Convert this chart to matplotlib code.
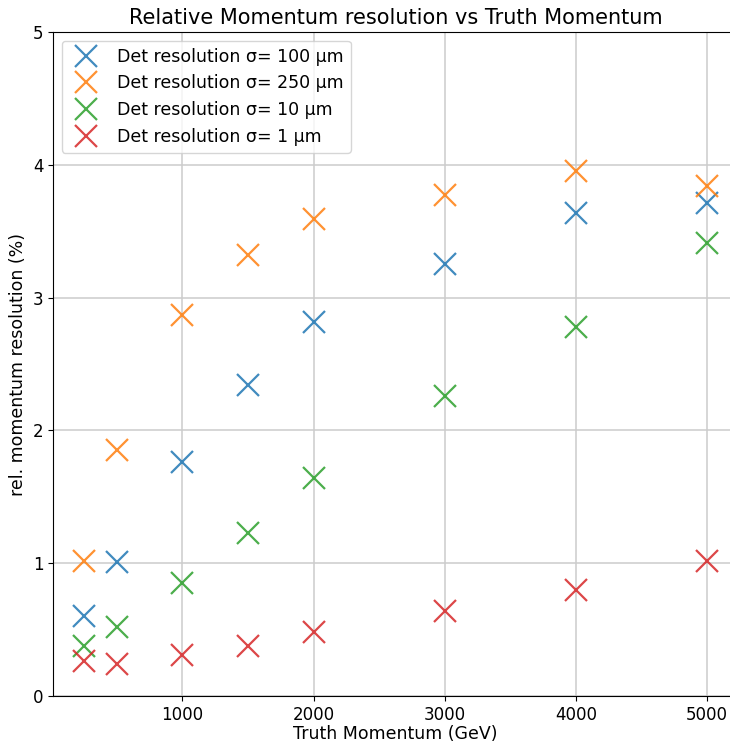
import matplotlib
matplotlib.use("Agg")
import matplotlib.pyplot as plt

# truth momenta (GeV) and relative resolution (%) per detector resolution
momenta = [250, 500, 1000, 1500, 2000, 3000, 4000, 5000]
res_100um = [0.60, 1.01, 1.76, 2.34, 2.82, 3.25, 3.64, 3.71]
res_250um = [1.02, 1.85, 2.87, 3.32, 3.59, 3.77, 3.95, 3.84]
res_10um = [0.38, 0.52, 0.85, 1.23, 1.64, 2.26, 2.78, 3.41]
res_1um = [0.26, 0.24, 0.31, 0.38, 0.48, 0.64, 0.80, 1.02]

series = [
    ("Det resolution σ= 100 µm", res_100um, "tab:blue"),
    ("Det resolution σ= 250 µm", res_250um, "tab:orange"),
    ("Det resolution σ= 10 µm", res_10um, "tab:green"),
    ("Det resolution σ= 1 µm", res_1um, "tab:red"),
]

fig = plt.figure(figsize=(7.30, 7.44), dpi=100)
# axes run slightly past the right edge of the canvas
ax = fig.add_axes([53 / 730, 48 / 744, 685 / 730, 664 / 744])

for label, vals, color in series:
    ax.plot(momenta, vals, linestyle="none", marker="x", markersize=16,
            markeredgewidth=1.6, color=color, alpha=0.85, label=label)

ax.set_xlim(12.5, 5237.5)
ax.set_ylim(0, 5)
ax.set_xticks([1000, 2000, 3000, 4000, 5000])
ax.grid(True, color="#cccccc", linewidth=1.1)
ax.tick_params(labelsize=12)
ax.set_title("Relative Momentum resolution vs Truth Momentum", fontsize=15)
ax.set_xlabel("Truth Momentum (GeV)", fontsize=12.5, labelpad=1)
ax.set_ylabel("rel. momentum resolution (%)", fontsize=12.5)
ax.legend(loc="upper left", fontsize=12.5)

fig.savefig("out.png", dpi=100)
